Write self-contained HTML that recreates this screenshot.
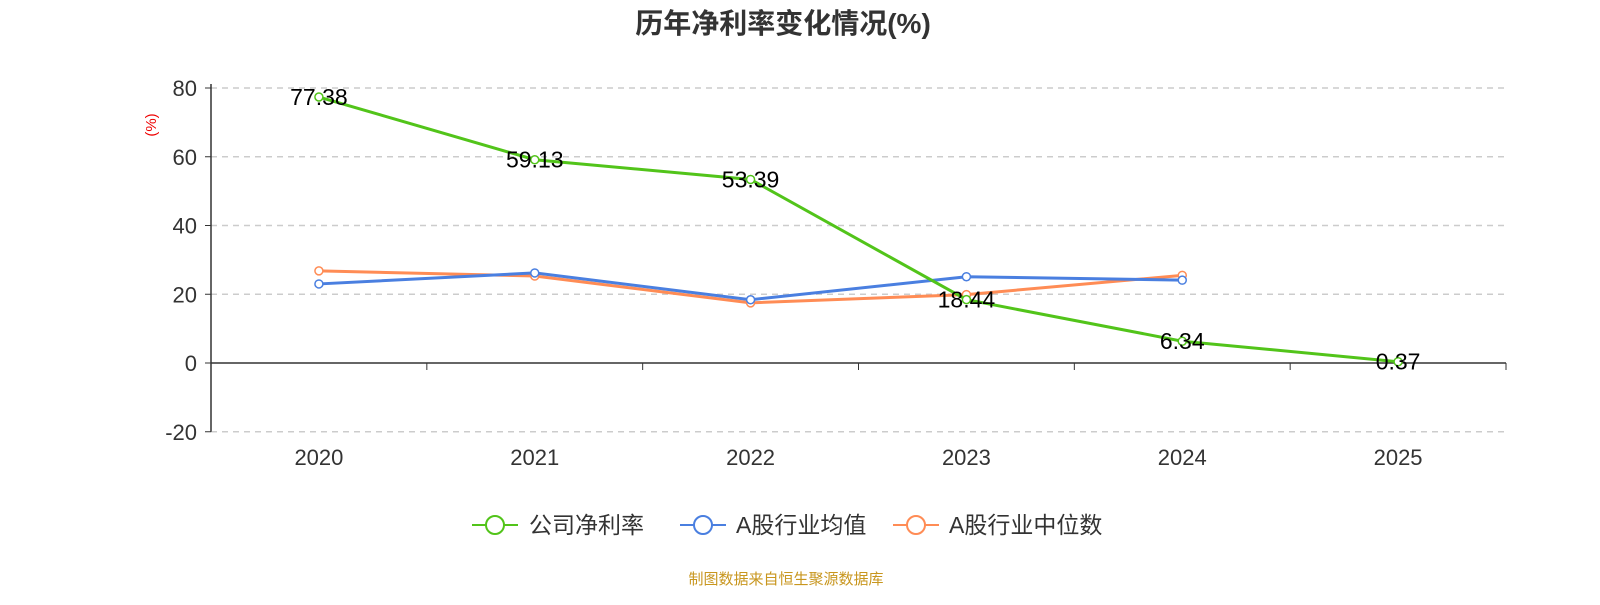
<!DOCTYPE html>
<html><head><meta charset="utf-8"><style>
body{margin:0;background:#fff;}
svg text{font-family:"Liberation Sans","Noto Sans CJK SC",sans-serif;}
</style></head><body>
<svg id="chart" width="1600" height="600" xmlns="http://www.w3.org/2000/svg">
<text x="783" y="33" text-anchor="middle" font-size="28" font-weight="bold" fill="#333">历年净利率变化情况(%)</text>
<text x="0" y="0" transform="translate(156,125) rotate(-90)" text-anchor="middle" font-size="15" fill="#e00">(%)</text>
<g id="grid"></g><g id="series"></g>
<g font-size="23" fill="#333">
<g><line x1="472" y1="525" x2="518" y2="525" stroke="#52c41a" stroke-width="2"/><circle cx="495" cy="525" r="9" fill="#fff" stroke="#52c41a" stroke-width="2"/><text x="529" y="533">公司净利率</text></g>
<g><line x1="680" y1="525" x2="726" y2="525" stroke="#4a7fe0" stroke-width="2"/><circle cx="703" cy="525" r="9" fill="#fff" stroke="#4a7fe0" stroke-width="2"/><text x="736" y="533">A股行业均值</text></g>
<g><line x1="893" y1="525" x2="939" y2="525" stroke="#ff8c55" stroke-width="2"/><circle cx="916" cy="525" r="9" fill="#fff" stroke="#ff8c55" stroke-width="2"/><text x="949" y="533">A股行业中位数</text></g>
</g>
<text x="786" y="584" text-anchor="middle" font-size="15" fill="#c8961e">制图数据来自恒生聚源数据库</text>
</svg>
<script>
const categories=["2020","2021","2022","2023","2024","2025"];
const yTicks=[-20,0,20,40,60,80];
const company=[77.38,59.13,53.39,18.44,6.34,0.37];
const companyLabels=["77.38","59.13","53.39","18.44","6.34","0.37"];
const industryAvg=[23.0,26.2,18.4,25.1,24.1,null];
const industryMedian=[26.8,25.3,17.5,19.9,25.5,null];
const L=211,R=1506,Y0=363,K=3.4375;
const bw=(R-L)/categories.length;
const x=i=>L+bw*(i+0.5);
const y=v=>Y0-v*K;
const NS="http://www.w3.org/2000/svg";
function mk(t,a,p){const e=document.createElementNS(NS,t);for(const k in a)e.setAttribute(k,a[k]);p.appendChild(e);return e;}
const g=document.getElementById('grid'),s=document.getElementById('series');
yTicks.forEach(v=>{
 if(v!==0){const l=mk('line',{x1:L,x2:R,y1:y(v),y2:y(v),stroke:'#ccc','stroke-dasharray':'6,5','stroke-width':1.5},g);
 
 }
 mk('line',{x1:L-6,x2:L,y1:y(v),y2:y(v),stroke:'#333'},g);
 const t=mk('text',{x:L-14,y:y(v)+8,'text-anchor':'end','font-size':22,fill:'#333'},g);t.textContent=v;
 
 
});
const ya=mk('line',{x1:L,x2:L,y1:y(80)-4,y2:y(-20),stroke:'#333','stroke-width':1.5},g);


const xa=mk('line',{x1:L,x2:R,y1:Y0,y2:Y0,stroke:'#333','stroke-width':1.5},g);


for(let i=0;i<=categories.length;i++)mk('line',{x1:L+bw*i,x2:L+bw*i,y1:Y0,y2:Y0+7,stroke:'#333'},g);
categories.forEach((c,i)=>{const t=mk('text',{x:x(i),y:465,'text-anchor':'middle','font-size':22,fill:'#333'},g);t.textContent=c;
 
 });
function series(d,col,name){
 const pts=d.map((v,i)=>v==null?null:[x(i),y(v)]).filter(p=>p);
 const pl=mk('polyline',{points:pts.map(p=>p.join(',')).join(' '),fill:'none',stroke:col,'stroke-width':3},s);
 
 
 pts.forEach(p=>{const c=mk('circle',{cx:p[0],cy:p[1],r:4,fill:'#fff',stroke:col,'stroke-width':1.5},s);
  
  });
}
series(industryMedian,'#ff8c55','industry-median');
series(industryAvg,'#4a7fe0','industry-avg');
series(company,'#52c41a','company');
company.forEach((v,i)=>{const t=mk('text',{x:x(i),y:y(v)+8,'text-anchor':'middle','font-size':23,fill:'#000'},s);t.textContent=companyLabels[i];
 
 });
</script>
</body></html>
